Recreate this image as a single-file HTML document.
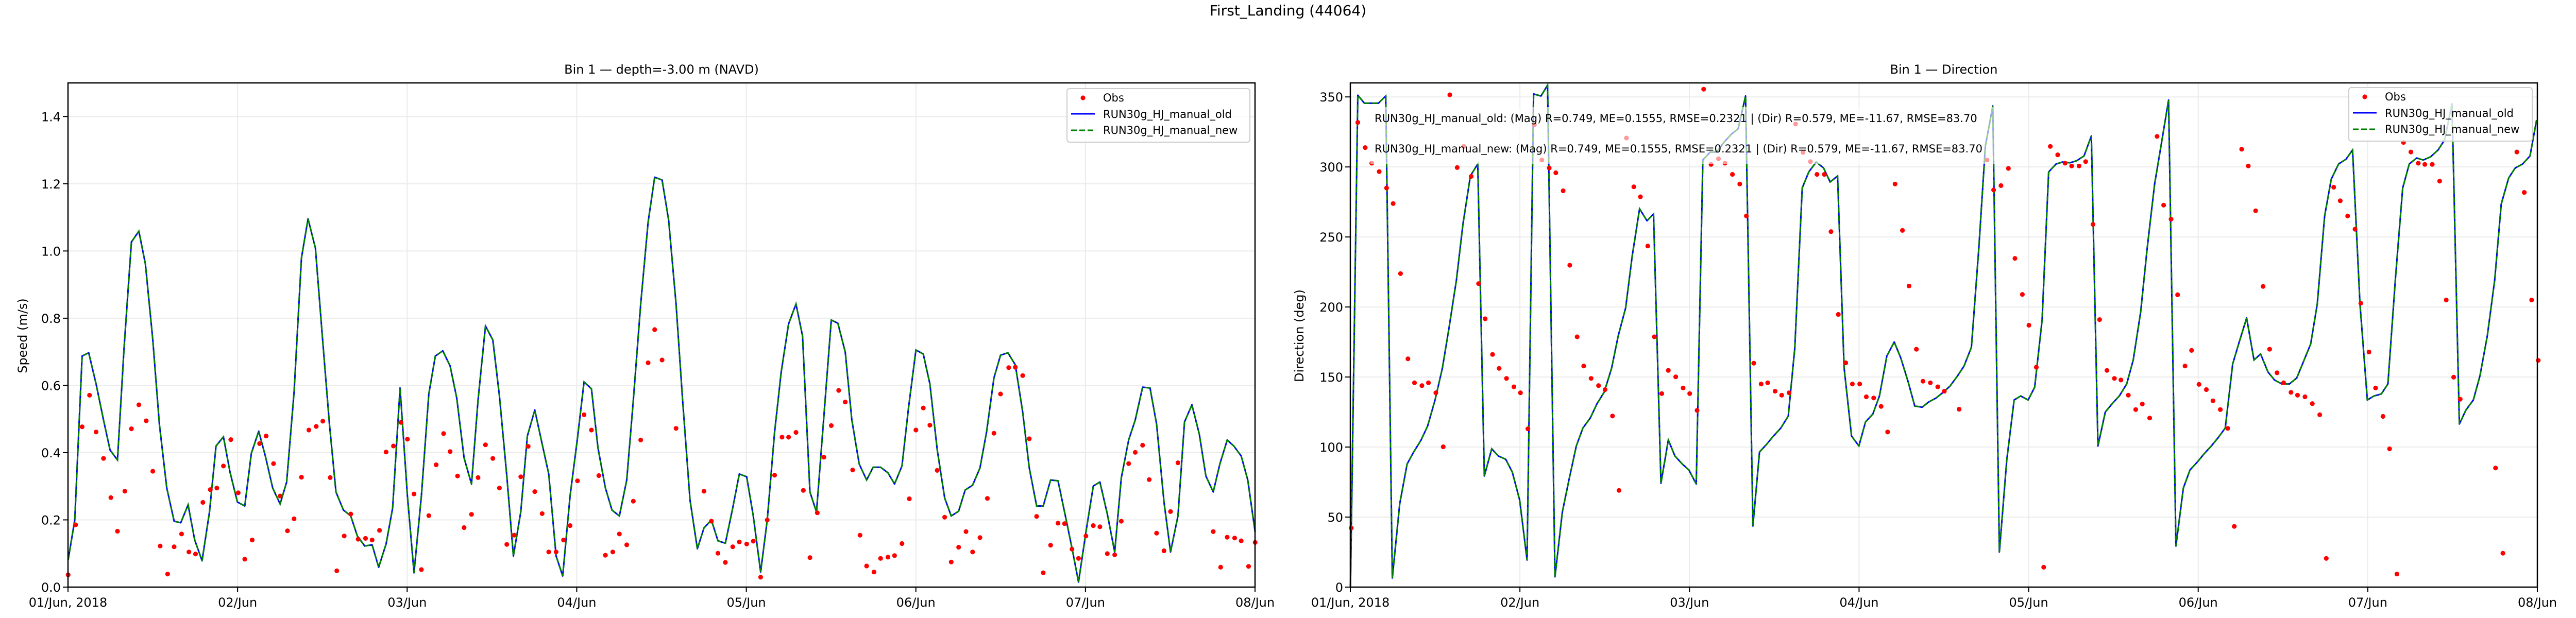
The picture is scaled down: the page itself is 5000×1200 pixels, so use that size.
<!DOCTYPE html>
<html><head><meta charset="utf-8"><style>
html,body{margin:0;padding:0;background:#fff;}
svg{display:block;font-family:"DejaVu Sans","Liberation Sans",sans-serif;}
</style></head><body>
<svg id="s" width="5000" height="1200" viewBox="0 0 5000 1200" xmlns="http://www.w3.org/2000/svg">
<rect width="5000" height="1200" fill="#fff"/>
<text x="2500" y="30" font-size="28" text-anchor="middle">First_Landing (44064)</text>
<text x="1284" y="143" font-size="24" text-anchor="middle">Bin 1 — depth=-3.00 m (NAVD)</text>
<text x="3773" y="143" font-size="24" text-anchor="middle">Bin 1 — Direction</text>
<text transform="translate(52,652) rotate(-90)" font-size="24" text-anchor="middle">Speed (m/s)</text>
<text transform="translate(2530,652) rotate(-90)" font-size="24" text-anchor="middle">Direction (deg)</text>
<g id="g"></g>
</svg>
<script>
var NS="http://www.w3.org/2000/svg",g=document.getElementById('g');
function el(t,a,txt){var e=document.createElementNS(NS,t);for(var k in a)e.setAttribute(k,a[k]);if(txt!==undefined)e.textContent=txt;g.appendChild(e);return e;}
var SX=1.5944,SY=0.7767;
function pts(arr,off){return arr.map(function(p){return (p[0]*SX+off).toFixed(1)+','+(p[1]*SY).toFixed(1)}).join(' ');}
var L1=[[83,1400],[91,1300],[100,890],[108,882],[117,960],[126,1050],[134,1125],[143,1150],[151,870],[160,605],[169,578],[177,660],[186,850],[194,1060],[203,1220],[212,1303],[220,1307],[229,1262],[237,1350],[246,1402],[255,1280],[263,1115],[272,1092],[280,1180],[289,1255],[298,1265],[306,1133],[315,1078],[323,1140],[332,1220],[341,1260],[349,1205],[358,980],[367,645],[375,547],[384,620],[392,830],[401,1060],[409,1230],[418,1275],[427,1290],[435,1340],[444,1365],[453,1362],[461,1418],[470,1360],[478,1270],[487,970],[496,1240],[504,1432],[513,1240],[522,985],[530,890],[539,877],[548,915],[556,995],[565,1145],[574,1210],[582,1000],[591,815],[600,850],[608,990],[617,1190],[625,1390],[634,1280],[642,1090],[651,1025],[660,1110],[668,1185],[677,1390],[685,1440],[694,1240],[703,1095],[711,955],[720,972],[728,1120],[737,1220],[745,1275],[754,1290],[763,1200],[771,1000],[780,760],[789,555],[797,443],[806,450],[814,550],[823,760],[831,1000],[840,1250],[849,1372],[857,1320],[866,1300],[874,1352],[883,1358],[892,1270],[900,1185],[909,1192],[917,1290],[926,1430],[934,1300],[943,1080],[951,930],[960,810],[969,760],[977,840],[986,1230],[994,1280],[1003,1040],[1012,800],[1020,808],[1029,880],[1037,1050],[1046,1160],[1055,1200],[1063,1168],[1072,1168],[1081,1182],[1089,1210],[1098,1165],[1106,1020],[1115,875],[1124,885],[1132,960],[1141,1125],[1150,1245],[1158,1290],[1167,1278],[1175,1225],[1184,1213],[1193,1170],[1201,1080],[1210,945],[1218,888],[1227,882],[1236,912],[1245,1030],[1253,1170],[1262,1265],[1270,1265],[1279,1200],[1288,1202],[1296,1280],[1305,1370],[1313,1455],[1322,1330],[1331,1215],[1339,1205],[1348,1285],[1357,1380],[1365,1195],[1374,1100],[1382,1050],[1391,968],[1400,970],[1408,1060],[1417,1255],[1425,1380],[1434,1290],[1442,1055],[1451,1012],[1460,1085],[1468,1190],[1477,1230],[1485,1160],[1494,1100],[1502,1115],[1511,1140],[1519,1200],[1528,1330]];
var O1=[[83,1437],[92,1312],[100,1067],[109,988],[117,1080],[126,1146],[135,1244],[143,1328],[152,1228],[160,1072],[169,1012],[178,1052],[186,1178],[195,1365],[204,1435],[212,1367],[221,1335],[230,1380],[238,1385],[247,1256],[256,1224],[264,1220],[272,1165],[281,1099],[290,1232],[298,1398],[307,1350],[316,1109],[324,1090],[333,1159],[341,1240],[350,1327],[358,1297],[367,1193],[376,1075],[385,1066],[393,1053],[402,1194],[410,1427],[419,1340],[427,1285],[436,1348],[445,1346],[453,1350],[462,1326],[470,1130],[479,1115],[488,1056],[496,1098],[504,1235],[513,1424],[522,1289],[531,1162],[540,1084],[548,1129],[557,1190],[565,1319],[574,1286],[582,1194],[591,1112],[600,1146],[608,1220],[617,1361],[626,1338],[634,1192],[643,1116],[651,1229],[660,1284],[668,1380],[677,1380],[686,1350],[694,1314],[703,1202],[711,1037],[720,1075],[729,1189],[737,1388],[746,1380],[754,1335],[763,1362],[771,1253],[780,1100],[789,907],[797,824],[806,900],[823,1071],[857,1228],[866,1303],[874,1383],[883,1406],[892,1367],[900,1355],[909,1360],[917,1353],[926,1443],[934,1300],[943,1188],[952,1093],[960,1093],[969,1081],[978,1226],[986,1394],[995,1282],[1003,1143],[1012,1064],[1021,976],[1029,1005],[1038,1175],[1047,1338],[1055,1415],[1064,1430],[1072,1396],[1081,1393],[1089,1389],[1098,1359],[1107,1247],[1115,1075],[1124,1020],[1132,1063],[1141,1176],[1150,1293],[1158,1405],[1167,1368],[1176,1329],[1184,1380],[1193,1344],[1202,1246],[1210,1083],[1218,985],[1228,919],[1236,918],[1245,939],[1253,1097],[1262,1291],[1270,1432],[1279,1363],[1288,1308],[1296,1309],[1305,1373],[1313,1396],[1322,1340],[1331,1314],[1339,1317],[1348,1384],[1357,1387],[1365,1303],[1374,1159],[1382,1131],[1391,1113],[1399,1199],[1408,1333],[1417,1377],[1425,1279],[1434,1157],[1477,1329],[1486,1418],[1494,1343],[1503,1345],[1511,1352],[1520,1416],[1528,1356]];
var L2=[[76,1470],[85,238],[93,258],[102,258],[110,258],[119,240],[127,1445],[136,1260],[145,1160],[153,1130],[162,1100],[170,1065],[179,1000],[188,920],[196,820],[205,700],[213,560],[222,440],[231,410],[239,1190],[248,1122],[256,1140],[265,1148],[273,1180],[282,1250],[291,1400],[299,235],[308,240],[316,213],[325,1442],[334,1280],[342,1200],[351,1115],[359,1070],[368,1045],[376,1010],[385,980],[394,920],[402,840],[411,770],[419,640],[428,522],[437,552],[445,535],[454,1208],[463,1100],[471,1140],[480,1160],[488,1175],[497,1210],[505,400],[514,380],[522,380],[531,355],[540,335],[548,322],[557,240],[566,1315],[574,1130],[583,1110],[591,1090],[600,1070],[609,1040],[617,870],[626,470],[634,430],[643,405],[652,420],[660,455],[669,440],[677,920],[686,1090],[695,1115],[703,1055],[712,1035],[720,990],[729,890],[738,855],[746,895],[755,955],[763,1015],[772,1018],[780,1005],[789,995],[798,980],[806,965],[815,940],[823,915],[832,868],[841,620],[849,365],[858,265],[866,1380],[875,1150],[884,1000],[892,990],[901,1000],[909,968],[918,800],[926,430],[935,410],[943,405],[952,407],[960,402],[969,390],[978,340],[986,1115],[995,1030],[1003,1010],[1012,990],[1021,960],[1029,900],[1038,780],[1046,620],[1055,460],[1064,350],[1072,250],[1081,1365],[1090,1220],[1098,1175],[1107,1155],[1115,1135],[1124,1115],[1132,1095],[1141,1070],[1150,910],[1158,855],[1167,795],[1176,900],[1184,885],[1193,930],[1201,950],[1210,960],[1219,960],[1228,945],[1236,905],[1245,860],[1253,760],[1262,540],[1270,448],[1279,410],[1288,398],[1296,375],[1305,760],[1314,1000],[1322,990],[1331,985],[1339,960],[1348,700],[1357,470],[1365,410],[1374,395],[1382,400],[1391,392],[1400,375],[1408,350],[1417,260],[1426,1060],[1434,1025],[1443,1000],[1451,940],[1460,840],[1469,700],[1477,510],[1486,445],[1494,420],[1503,410],[1512,390],[1520,300]];
var O2=[[77,1320],[85,306],[94,369],[102,408],[111,429],[120,470],[128,509],[137,684],[146,897],[154,957],[163,964],[171,957],[180,982],[189,1117],[197,237],[206,419],[214,366],[223,441],[232,709],[240,797],[249,886],[257,921],[266,946],[275,967],[283,982],[292,1072],[300,312],[309,400],[318,420],[326,432],[335,477],[343,663],[352,842],[360,915],[369,946],[378,964],[386,974],[395,1040],[403,1226],[412,345],[421,467],[429,492],[438,615],[446,842],[455,984],[463,926],[472,942],[481,970],[489,984],[498,1026],[506,223],[515,411],[524,397],[532,408],[541,436],[550,460],[558,540],[567,908],[576,960],[584,957],[593,978],[601,988],[610,982],[618,310],[627,381],[636,404],[644,436],[653,436],[661,579],[670,786],[679,907],[687,960],[696,960],[704,992],[713,995],[722,1016],[730,1080],[739,460],[748,576],[756,715],[765,873],[773,953],[782,957],[791,967],[799,978],[817,1023],[851,400],[859,475],[868,464],[877,421],[885,646],[894,736],[902,813],[911,918],[920,1418],[928,366],[937,387],[946,408],[954,415],[963,415],[971,404],[980,561],[988,799],[997,926],[1006,946],[1014,950],[1023,988],[1032,1024],[1040,1010],[1049,1045],[1058,341],[1066,513],[1075,548],[1083,737],[1092,915],[1100,876],[1109,961],[1118,974],[1126,1002],[1135,1024],[1144,1071],[1152,1316],[1161,373],[1169,415],[1178,527],[1187,716],[1195,873],[1204,932],[1212,957],[1221,981],[1229,988],[1238,992],[1247,1009],[1256,1037],[1264,1396],[1273,468],[1281,502],[1290,540],[1299,573],[1306,758],[1316,880],[1324,970],[1333,1041],[1341,1122],[1350,1435],[1358,356],[1367,380],[1376,408],[1384,411],[1393,411],[1402,453],[1410,750],[1419,943],[1427,998],[1470,1170],[1479,1383],[1496,380],[1505,481],[1514,750],[1522,901]];

function axes(x0,x1,yt,yb,ymax,yticks,ylab,L,O,off,leg){
  var labs=['01/Jun, 2018','02/Jun','03/Jun','04/Jun','05/Jun','06/Jun','07/Jun','08/Jun'];
  for(var i=0;i<8;i++){var x=x0+(x1-x0)*i/7;
    el('line',{x1:x,x2:x,y1:yt,y2:yb,stroke:'#ebebeb','stroke-width':2});
    el('line',{x1:x,x2:x,y1:yb,y2:yb+10,stroke:'#000','stroke-width':2});
    el('text',{x:x,y:yb+38,'font-size':24,'text-anchor':'middle'},labs[i]);}
  yticks.forEach(function(t){var y=yb-(yb-yt)*t[0]/ymax;
    el('line',{x1:x0,x2:x1,y1:y,y2:y,stroke:'#ebebeb','stroke-width':2});
    el('line',{x1:x0-10,x2:x0,y1:y,y2:y,stroke:'#000','stroke-width':2});
    el('text',{x:x0-14,y:y+9,'font-size':24,'text-anchor':'end'},t[1]);});
  el('polyline',{points:pts(L,off),fill:'none',stroke:'#0000ff','stroke-width':3,'stroke-linejoin':'round'});
  el('polyline',{points:pts(L,off),fill:'none',stroke:'#008000','stroke-width':3,'stroke-dasharray':'11,5'});
  O.forEach(function(p){el('circle',{cx:(p[0]*SX+off).toFixed(1),cy:(p[1]*SY).toFixed(1),r:4.6,fill:'#ff0000'});});
  if(leg){ // stats box
  }
  el('rect',{x:x0,y:yt,width:x1-x0,height:yb-yt,fill:'none',stroke:'#000','stroke-width':2.5});
}
// clip helper: draw left
axes(132,2436,161,1140,1.5,[[0,'0.0'],[0.2,'0.2'],[0.4,'0.4'],[0.6,'0.6'],[0.8,'0.8'],[1.0,'1.0'],[1.2,'1.2'],[1.4,'1.4']],'',L1,O1,0,false);
axes(2621,4925,161,1140,360,[[0,'0'],[50,'50'],[100,'100'],[150,'150'],[200,'200'],[250,'250'],[300,'300'],[350,'350']],'',L2,O2,2500,true);
// stats text with semi-transparent box
el('rect',{x:2660,y:208,width:1255,height:110,fill:'#fff','fill-opacity':0.6});
el('text',{x:2668,y:237,'font-size':21},'RUN30g_HJ_manual_old: (Mag) R=0.749, ME=0.1555, RMSE=0.2321 | (Dir) R=0.579, ME=-11.67, RMSE=83.70');
el('text',{x:2668,y:296,'font-size':21},'RUN30g_HJ_manual_new: (Mag) R=0.749, ME=0.1555, RMSE=0.2321 | (Dir) R=0.579, ME=-11.67, RMSE=83.70');
function legend(x,y,w){
  el('rect',{x:x,y:y,width:w,height:104,rx:5,fill:'#fff','fill-opacity':0.8,stroke:'#cccccc','stroke-width':2});
  el('circle',{cx:x+31,cy:y+18,r:4.6,fill:'#ff0000'});
  el('text',{x:x+70,y:y+25,'font-size':21},'Obs');
  el('line',{x1:x+8,x2:x+54,y1:y+49,y2:y+49,stroke:'#0000ff','stroke-width':3});
  el('text',{x:x+70,y:y+57,'font-size':21},'RUN30g_HJ_manual_old');
  el('line',{x1:x+8,x2:x+54,y1:y+81,y2:y+81,stroke:'#008000','stroke-width':3,'stroke-dasharray':'11,5'});
  el('text',{x:x+70,y:y+88,'font-size':21},'RUN30g_HJ_manual_new');
}
legend(2071,172,355);
legend(4559,170,356);
</script>
</body></html>
